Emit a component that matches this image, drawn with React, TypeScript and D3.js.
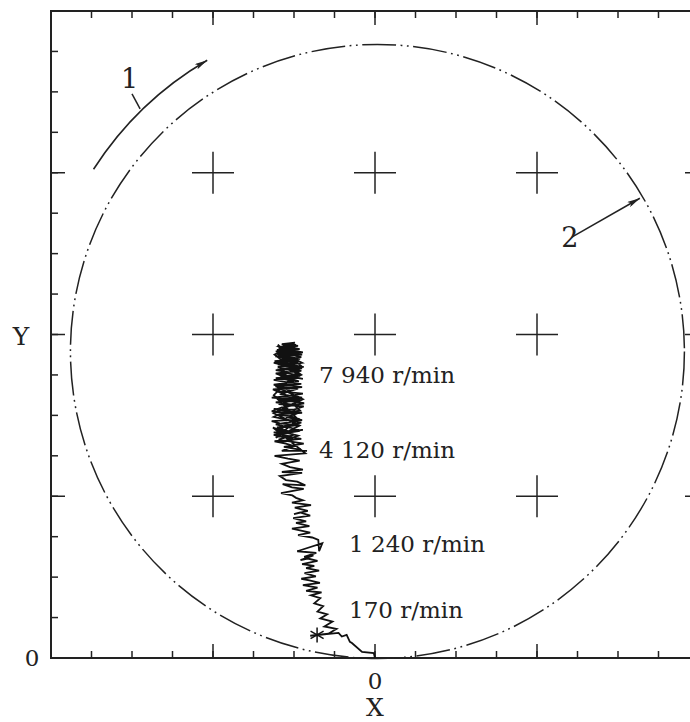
import React, { useRef, useEffect } from 'react';
import * as d3 from 'd3';

// axis ticks (data units)
const xTicks = [-8, -7, -6, -5, -4, -3, -2, -1, 0, 1, 2, 3, 4, 5, 6, 7, 8];
const xMajor = [-8, -4, 0, 4, 8];
const yTicks = [0, 1, 2, 3, 4, 5, 6, 7, 8, 9, 10, 11, 12, 13, 14, 15, 16];
const yMajor = [0, 4, 8, 12, 16];
const xTickLabels = [{ value: 0, text: '0' }];
const yTickLabels = [{ value: 0, text: '0' }];

// grid crosses
const crossX = [-4, 0, 4];
const crossY = [4, 8, 12];

// boundary circle (2)
const boundary = { cx: 0.06, cy: 7.58, r: 7.58 };

// rotation arrow (1): radius and angle range (degrees, screen)
const rotArrow = { r: 8.33, from: -147.3, to: -120.3 };
const leader1 = [[-6.0, 13.95], [-5.8, 13.58]];
const arrow2 = [[4.86, 10.41], [6.54, 11.37]];
const callouts = [
  { text: '1', x: -6.27, y: 14.1 },
  { text: '2', x: 4.6, y: 10.16 },
];

// speed annotations
const speedTexts = ['7 940 r/min', '4 120 r/min', '1 240 r/min', '170 r/min'];
const speedAnchors = [[-1.38, 6.8], [-1.38, 4.95], [-0.64, 2.62], [-0.64, 0.99]];

// start marker
const startMark = [-1.43, 0.57];

// shaft centre orbit
const orbit: [number, number][] = [
  // start, low speed
  [0.0, 0.0], [-0.03, 0.12], [-0.32, 0.15], [-0.57, 0.37], [-0.62, 0.4], [-0.7, 0.57],
  [-0.82, 0.53], [-0.9, 0.62], [-1.6, 0.55], [-1.15, 0.6], [-0.95, 0.72], [-1.25, 0.78],
  [-1.05, 0.9], [-1.35, 0.98], [-1.18, 1.08], [-1.42, 1.15], [-1.28, 1.28], [-1.5, 1.35],
  [-1.35, 1.48], [-1.58, 1.55],
  // around 1 240 r/min
  [-1.32, 1.62], [-1.7, 1.66], [-1.42, 1.74], [-1.78, 1.8], [-1.36, 1.86], [-1.62, 1.92],
  [-1.82, 1.96], [-1.46, 2.02], [-1.74, 2.1], [-1.38, 2.16], [-1.7, 2.22], [-1.5, 2.28],
  [-1.8, 2.32], [-1.42, 2.4], [-1.66, 2.46], [-1.84, 2.42], [-1.52, 2.54], [-1.75, 2.5],
  [-1.45, 2.6], [-1.92, 2.64], [-1.3, 2.84], [-1.38, 2.64], [-1.4, 2.92],
  [-1.55, 2.98], [-1.9, 3.04], [-1.6, 3.1], [-2.05, 3.2], [-1.62, 3.26], [-1.95, 3.34],
  [-1.7, 3.38], [-2.02, 3.46], [-1.6, 3.52], [-1.85, 3.6], [-2.0, 3.56], [-1.66, 3.64],
  [-1.98, 3.72], [-1.58, 3.78], [-2.05, 3.84], [-1.78, 3.9], [-1.95, 3.96],
  // around 4 120 r/min
  [-2.04, 4.02], [-2.32, 4.08], [-1.76, 4.18], [-2.05, 4.22], [-2.28, 4.3], [-1.72, 4.27],
  [-1.92, 4.36], [-2.2, 4.4], [-2.35, 4.5], [-1.8, 4.58], [-2.3, 4.6], [-1.78, 4.66],
  [-2.1, 4.72], [-2.3, 4.8], [-1.86, 4.88], [-2.15, 4.93], [-2.48, 5.0], [-1.72, 5.06],
  [-2.52, 5.7], [-2.0, 5.52], [-2.38, 5.4], [-1.76, 5.3], [-2.25, 5.22], [-1.68, 5.12],
  [-2.3, 5.12], [-2.0, 5.24],
  // up to 7 940 r/min
  [-2.2, 5.3], [-2.48, 5.36], [-1.82, 5.42], [-2.3, 5.5], [-2.05, 5.47], [-2.5, 5.58],
  [-1.78, 5.64], [-2.15, 5.6], [-2.42, 5.7], [-1.9, 5.76], [-2.35, 5.8], [-2.55, 5.86],
  [-1.85, 5.9], [-2.1, 5.98], [-2.45, 6.02], [-1.8, 6.06], [-2.25, 6.12], [-2.5, 6.16],
  [-2.0, 6.14], [-1.76, 6.22], [-2.38, 6.28], [-2.15, 6.34], [-1.84, 6.38], [-2.55, 6.44],
  [-2.1, 6.48], [-1.78, 6.54], [-2.4, 6.6], [-2.25, 6.56], [-1.9, 6.66], [-2.46, 6.72],
  [-1.82, 6.78], [-2.2, 6.82], [-2.5, 6.88], [-1.95, 6.94], [-1.78, 6.9], [-2.35, 7.0],
  [-2.1, 7.06], [-2.45, 7.12], [-1.8, 7.16], [-2.28, 7.22], [-2.0, 7.28], [-2.48, 7.34],
  [-1.85, 7.4], [-2.2, 7.46], [-2.42, 7.52], [-1.78, 7.56], [-2.1, 7.62], [-2.38, 7.66],
  [-1.9, 7.72], [-2.2, 7.76], [-2.0, 7.7],
  [-2.42, 7.62], [-1.8, 7.5], [-2.3, 7.44], [-1.95, 7.36], [-2.5, 7.3], [-2.05, 7.24],
  [-1.76, 7.2], [-2.35, 7.14], [-2.15, 7.04], [-1.85, 6.98], [-2.45, 6.92], [-2.0, 6.86],
  [-2.3, 6.76], [-1.8, 6.7], [-2.52, 6.64], [-2.2, 6.5], [-1.88, 6.46], [-2.4, 6.4],
  [-1.75, 6.3], [-2.3, 6.2], [-2.55, 6.1], [-1.92, 6.04], [-2.2, 5.96], [-1.8, 5.88],
  [-2.45, 5.78], [-2.1, 5.7], [-1.85, 5.62], [-2.5, 5.52], [-2.0, 5.4], [-2.3, 5.34],
  [-1.9, 5.5], [-2.4, 5.62], [-2.2, 5.74], [-1.82, 5.82], [-2.5, 5.96], [-2.3, 6.06],
  [-1.85, 6.12], [-2.0, 6.26], [-2.45, 6.32], [-1.8, 6.44], [-2.3, 6.52], [-2.1, 6.62],
  [-2.5, 6.76], [-1.88, 6.84], [-2.25, 6.96], [-2.45, 7.04], [-1.82, 7.1], [-2.12, 7.2],
  [-2.4, 7.26], [-1.9, 7.32], [-2.3, 7.4], [-2.05, 7.5], [-2.45, 7.58], [-1.86, 7.64],
  [-2.25, 7.72], [-2.1, 7.78], [-1.95, 7.74],
  [-2.38, 7.7], [-2.18, 7.6], [-1.84, 7.54], [-2.46, 7.46], [-2.0, 7.4], [-1.8, 7.3],
  [-2.4, 7.2], [-2.1, 7.12], [-1.86, 7.02], [-2.35, 6.94], [-2.0, 6.88], [-2.25, 7.0],
  [-1.9, 7.16], [-2.42, 7.28], [-2.2, 7.36], [-1.82, 7.44], [-2.35, 7.56], [-2.05, 7.66],
  [-2.3, 7.76], [-1.98, 7.8], [-2.15, 7.68],
  [-2.48, 7.5], [-1.82, 7.0], [-2.42, 6.7], [-1.78, 6.4], [-2.5, 6.05], [-1.86, 5.75],
  [-2.45, 5.45], [-1.9, 5.9], [-2.5, 6.5], [-1.8, 7.2], [-2.4, 7.75], [-2.2, 7.5],
];

const W = 690;
const H = 722;
const ink = '#222';
const serif = '"DejaVu Serif", serif';

function App() {
  const svgRef = useRef<SVGSVGElement>(null);

  useEffect(() => {
    const svg = d3.select(svgRef.current);
    svg.selectAll('*').remove();

    const x = d3.scaleLinear().domain([-8, 8]).range([51, 699]);
    const y = d3.scaleLinear().domain([0, 16]).range([658, 11]);
    const k = x(1) - x(0);

    const defs = svg.append('defs');
    defs.append('marker')
      .attr('id', 'head')
      .attr('viewBox', '0 0 13 6')
      .attr('refX', 13).attr('refY', 3)
      .attr('markerWidth', 13).attr('markerHeight', 6)
      .attr('markerUnits', 'userSpaceOnUse')
      .attr('orient', 'auto')
      .append('path')
      .attr('d', 'M0,0 L13,3 L0,6 L3,3 Z')
      .attr('fill', ink);

    // ticks on four sides
    const side = (values: number[], len: number) => {
      svg.append('g').selectAll('line.b').data(values).join('line')
        .attr('x1', d => x(d)).attr('x2', d => x(d))
        .attr('y1', y(0)).attr('y2', y(0) - len);
      svg.append('g').selectAll('line.t').data(values).join('line')
        .attr('x1', d => x(d)).attr('x2', d => x(d))
        .attr('y1', y(16)).attr('y2', y(16) + len);
    };
    const sideY = (values: number[], len: number) => {
      svg.append('g').selectAll('line.l').data(values).join('line')
        .attr('y1', d => y(d)).attr('y2', d => y(d))
        .attr('x1', x(-8)).attr('x2', x(-8) + len);
      svg.append('g').selectAll('line.r').data(values).join('line')
        .attr('y1', d => y(d)).attr('y2', d => y(d))
        .attr('x1', x(8)).attr('x2', x(8) - len);
    };
    side(xTicks, 7);
    side(xMajor, 14);
    sideY(yTicks, 7);
    sideY(yMajor, 14);
    svg.selectAll('line').attr('stroke', ink).attr('stroke-width', 1.5);

    svg.append('rect')
      .attr('x', x(-8)).attr('y', y(16))
      .attr('width', x(8) - x(-8)).attr('height', y(0) - y(16))
      .attr('fill', 'none').attr('stroke', ink).attr('stroke-width', 2);

    // crosses
    const crosses = crossY.flatMap(cy => crossX.map(cx => [cx, cy]));
    const cg = svg.append('g').attr('stroke', ink).attr('stroke-width', 1.5);
    crosses.forEach(([cx, cy]) => {
      cg.append('line').attr('x1', x(cx) - 21).attr('x2', x(cx) + 21)
        .attr('y1', y(cy)).attr('y2', y(cy));
      cg.append('line').attr('x1', x(cx)).attr('x2', x(cx))
        .attr('y1', y(cy) - 21).attr('y2', y(cy) + 21);
    });

    // boundary circle
    svg.append('circle')
      .attr('cx', x(boundary.cx)).attr('cy', y(boundary.cy)).attr('r', boundary.r * k)
      .attr('fill', 'none').attr('stroke', ink).attr('stroke-width', 1.5)
      .attr('stroke-dasharray', '34 4.5 1.8 4.5 1.8 4.5');

    // orbit
    const line = d3.line<[number, number]>().x(d => x(d[0])).y(d => y(d[1]));
    svg.append('path')
      .attr('d', line(orbit))
      .attr('fill', 'none').attr('stroke', '#111').attr('stroke-width', 1.8)
      .attr('stroke-linejoin', 'miter');

    svg.append('path')
      .attr('transform', `translate(${x(startMark[0])},${y(startMark[1])})`)
      .attr('d', d3.symbol(d3.symbolAsterisk, 160)())
      .attr('fill', 'none').attr('stroke', '#111').attr('stroke-width', 1.5);

    // rotation arrow 1
    const p = d3.path();
    const rad = Math.PI / 180;
    p.arc(x(boundary.cx), y(boundary.cy), rotArrow.r * k, rotArrow.from * rad, rotArrow.to * rad, false);
    svg.append('path').attr('d', p.toString())
      .attr('fill', 'none').attr('stroke', ink).attr('stroke-width', 1.6)
      .attr('marker-end', 'url(#head)');
    svg.append('line')
      .attr('x1', x(leader1[0][0])).attr('y1', y(leader1[0][1]))
      .attr('x2', x(leader1[1][0])).attr('y2', y(leader1[1][1]))
      .attr('stroke', ink).attr('stroke-width', 1.5);

    // arrow 2
    svg.append('line')
      .attr('x1', x(arrow2[0][0])).attr('y1', y(arrow2[0][1]))
      .attr('x2', x(arrow2[1][0])).attr('y2', y(arrow2[1][1]))
      .attr('stroke', ink).attr('stroke-width', 1.5)
      .attr('marker-end', 'url(#head)');

    svg.append('g').selectAll('text').data(callouts).join('text')
      .attr('x', d => x(d.x)).attr('y', d => y(d.y))
      .attr('font-family', serif).attr('font-size', 27).attr('fill', ink)
      .text(d => d.text);

    svg.append('g').selectAll('text').data(speedTexts).join('text')
      .attr('x', (d, i) => x(speedAnchors[i][0])).attr('y', (d, i) => y(speedAnchors[i][1]))
      .attr('font-family', serif).attr('font-size', 23).attr('fill', ink)
      .text(d => d);

    // axis labels
    svg.append('g').selectAll('text').data(xTickLabels).join('text')
      .attr('x', d => x(d.value)).attr('y', 689)
      .attr('text-anchor', 'middle')
      .attr('font-family', serif).attr('font-size', 23).attr('fill', ink)
      .text(d => d.text);
    svg.append('g').selectAll('text').data(yTickLabels).join('text')
      .attr('x', 32).attr('y', d => y(d.value) + 8)
      .attr('text-anchor', 'middle')
      .attr('font-family', serif).attr('font-size', 23).attr('fill', ink)
      .text(d => d.text);

    svg.append('text')
      .attr('x', x(0)).attr('y', 716)
      .attr('text-anchor', 'middle')
      .attr('font-family', serif).attr('font-size', 25).attr('fill', ink)
      .text('X');
    svg.append('text')
      .attr('x', 21).attr('y', y(8) + 10)
      .attr('text-anchor', 'middle')
      .attr('font-family', serif).attr('font-size', 25).attr('fill', ink)
      .text('Y');
  }, []);

  return (
    <svg ref={svgRef} width={W} height={H}
      style={{ position: 'absolute', left: 0, top: 0, background: '#fff' }} />
  );
}

export default App;
